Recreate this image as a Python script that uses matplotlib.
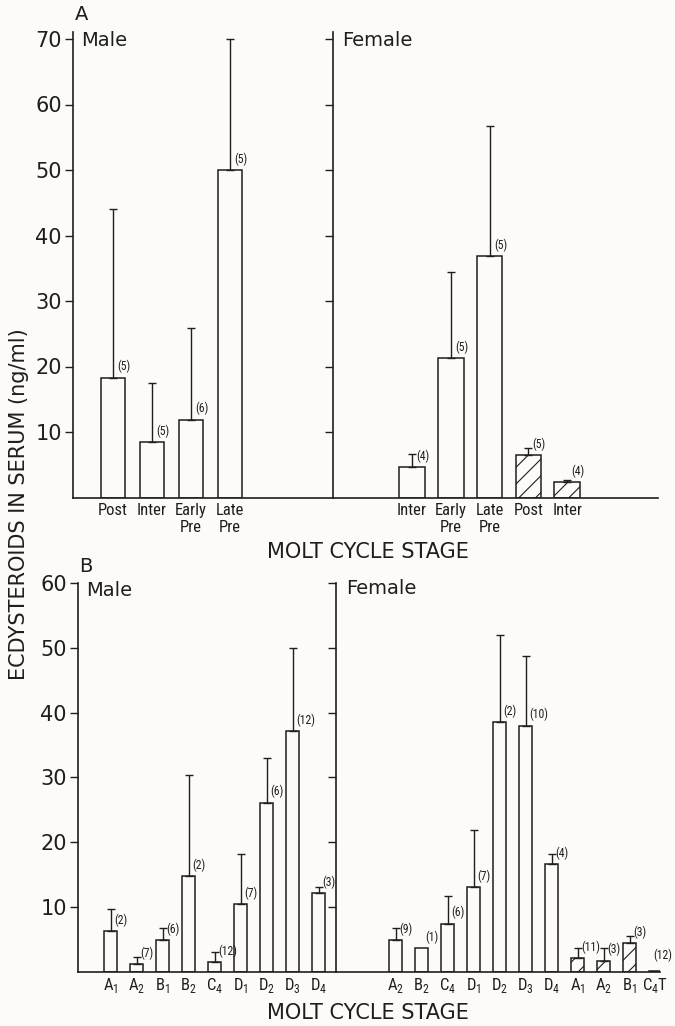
import numpy as np
import matplotlib

matplotlib.use("Agg")
import matplotlib.pyplot as plt
from matplotlib import font_manager


# --- Panel A: ecdysteroids by molt stage (ng/ml), mean + SE, (n) ---
a_male_stages = ["Post", "Inter", "Early\nPre", "Late\nPre"]
a_male_mean = [18.3, 8.4, 11.9, 50.0]
a_male_se = [25.7, 9.1, 14.0, 20.0]
a_male_n = [5, 5, 6, 5]

a_fem_stages = ["Inter", "Early\nPre", "Late\nPre", "Post", "Inter"]
a_fem_mean = [4.6, 21.3, 36.9, 6.5, 2.3]
a_fem_se = [2.0, 13.2, 19.8, 1.0, 0.4]
a_fem_n = [4, 5, 5, 5, 4]
a_fem_hatched = [False, False, False, True, True]

# --- Panel B: finer substages ---
b_male_stages = ["A1", "A2", "B1", "B2", "C4", "D1", "D2", "D3", "D4"]
b_male_mean = [6.3, 1.2, 4.8, 14.8, 1.4, 10.4, 26.1, 37.2, 12.1]
b_male_se = [3.3, 1.1, 2.0, 15.5, 1.6, 7.8, 6.9, 12.8, 0.9]
b_male_n = [2, 7, 6, 2, 12, 7, 6, 12, 3]

b_fem_stages = ["A2", "B2", "C4", "D1", "D2", "D3", "D4", "A1", "A2", "B1", "C4T"]
b_fem_mean = [4.8, 3.6, 7.4, 13.0, 38.5, 38.0, 16.6, 2.1, 1.7, 4.4, 0.15]
b_fem_se = [2.0, 0.0, 4.3, 8.9, 13.5, 10.7, 1.5, 1.6, 2.0, 1.1, 0.0]
b_fem_n = [9, 1, 6, 7, 2, 10, 4, 11, 3, 3, 12]
b_fem_hatched = [False] * 7 + [True] * 4

W, H = 675, 1026
BG = "#fcfbf8"
INK = "#1e1e1e"

available = {f.name for f in font_manager.fontManager.ttflist}
narrow = next((f for f in ["Liberation Sans Narrow", "DejaVu Sans Condensed",
                           "Roboto Condensed", "DejaVu Sans"] if f in available), "DejaVu Sans")

plt.rcParams["font.family"] = ["DejaVu Sans"]
plt.rcParams["hatch.linewidth"] = 0.8
plt.rcParams["hatch.color"] = INK

fig = plt.figure(figsize=(W / 100, H / 100), dpi=100, facecolor=BG)


def px_axes(left, right, top, bottom):
    return fig.add_axes([left / W, 1 - bottom / H, (right - left) / W, (bottom - top) / H])


def ftext(x, y, s, **kw):
    fig.text(x / W, 1 - y / H, s, color=INK, **kw)


def sub_label(s):
    # "C4T" -> C with subscript 4, then T
    out = s[0]
    if len(s) > 1:
        out += r"$_\mathregular{" + s[1] + "}$" + s[2:]
    return out


def draw(ax, stages, mean, se, n, hatched, width, ylim, ticks, show_labels, tick_pad):
    x = np.arange(len(stages))
    mean = np.array(mean)
    se = np.array(se)
    bars = ax.bar(x, mean, width, facecolor=BG, edgecolor=INK, linewidth=1.1, zorder=2)
    for b, h in zip(bars, hatched):
        if h:
            b.set_hatch("//")
    m = se > 0
    ax.errorbar(x[m], mean[m], yerr=[np.zeros(m.sum()), se[m]], fmt="none",
                ecolor=INK, elinewidth=1.0, capsize=3, capthick=1.0, zorder=3)
    notes = []
    for xi, yi, k in zip(x, mean, n):
        notes.append(ax.annotate(f"({k})", xy=(xi, yi), xytext=(3, 3), textcoords="offset points",
                                 ha="left", va="bottom", fontsize=8.5, family=narrow, color=INK))
    ax.set_ylim(*ylim)
    ax.set_yticks(ticks)
    ax.set_xticks(x)
    ax.set_xticklabels(stages, family=narrow, fontsize=12, linespacing=1.2)
    ax.tick_params(axis="x", length=0, pad=tick_pad, colors=INK)
    ax.tick_params(axis="y", direction="out", length=6, width=1, labelsize=15,
                   pad=2, colors=INK, labelleft=show_labels)
    for s in ["top", "right"]:
        ax.spines[s].set_visible(False)
    for s in ["left", "bottom"]:
        ax.spines[s].set_linewidth(1.2)
        ax.spines[s].set_color(INK)
    ax.set_facecolor("none")
    return notes


# layout: axis pixel positions, first bar centre and bar spacing
def xlim_for(left_px, right_px, first_px, step_px):
    return ((left_px - first_px) / step_px, (right_px - first_px) / step_px)


# Panel A
a_top, a_zero = 497.5 - 71 * 6.55, 497.5
ax = px_axes(73, 333, a_top, a_zero)
draw(ax, a_male_stages, a_male_mean, a_male_se, a_male_n, [False] * 4,
     0.64, (0, 71), range(10, 71, 10), True, 4)
ax.set_xlim(*xlim_for(73, 333, 113, 39))

ax = px_axes(333, 658, a_top, a_zero)
draw(ax, a_fem_stages, a_fem_mean, a_fem_se, a_fem_n, a_fem_hatched,
     0.66, (0, 71), range(10, 71, 10), False, 4)
ax.set_xlim(*xlim_for(333, 658, 412, 38.8))

# Panel B
b_top, b_zero = 971.5 - 60 * 6.47, 971.5
ax = px_axes(78, 336, b_top, b_zero)
draw(ax, [sub_label(s) for s in b_male_stages], b_male_mean, b_male_se, b_male_n,
     [False] * 9, 0.5, (0, 60), range(10, 61, 10), True, 3)
ax.set_xlim(*xlim_for(78, 336, 110.5, 26))

ax = px_axes(336, 660, b_top, b_zero)
notes = draw(ax, [sub_label(s) for s in b_fem_stages], b_fem_mean, b_fem_se, b_fem_n,
             b_fem_hatched, 0.5, (0, 60), range(10, 61, 10), False, 3)
ax.set_xlim(*xlim_for(336, 660, 395.5, 26))
notes[-1].set_position((-1.5, 6))  # keep last label inside the page

# texts
ftext(82, 15, "A", fontsize=14, ha="center", va="center")
ftext(81, 41, "Male", fontsize=14, ha="left", va="center")
ftext(342, 40, "Female", fontsize=14, ha="left", va="center")
ftext(86, 567, "B", fontsize=14, ha="center", va="center")
ftext(86, 590, "Male", fontsize=14, ha="left", va="center")
ftext(346, 588, "Female", fontsize=14, ha="left", va="center")
ftext(368, 552, "MOLT CYCLE STAGE", fontsize=15, ha="center", va="center")
ftext(368, 1013, "MOLT CYCLE STAGE", fontsize=15, ha="center", va="center")
ftext(19, 504, "ECDYSTEROIDS IN SERUM (ng/ml)", fontsize=15, rotation=90,
      ha="center", va="center")

fig.savefig("out.png", dpi=100, facecolor=BG)
plt.close(fig)
